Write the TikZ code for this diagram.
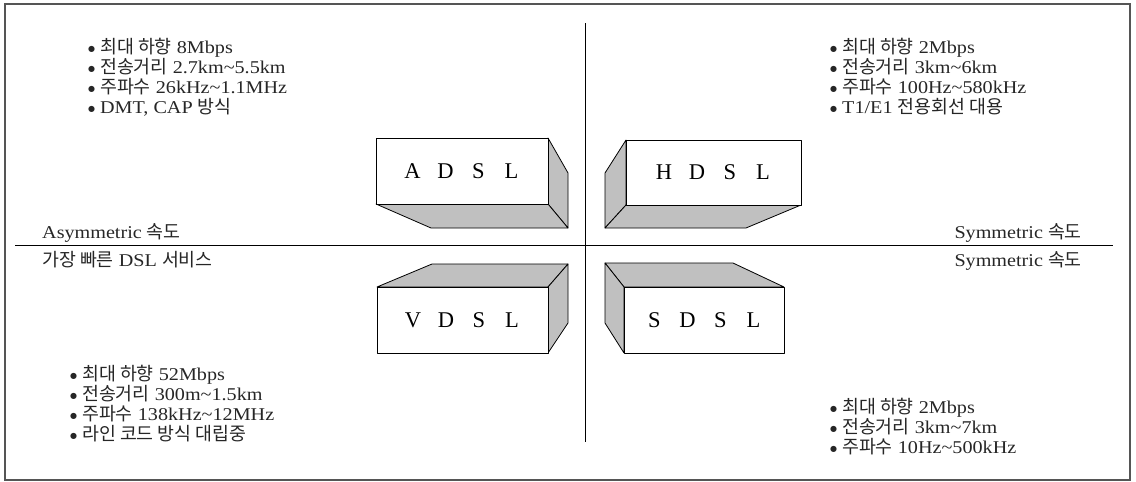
\documentclass[tikz,border=0pt]{standalone}
\usepackage{fontspec}
\setmainfont{Liberation Serif}[FakeStretch=1.12]
\newfontfamily\boxfont{Liberation Serif}
\newfontfamily\kr{Noto Sans CJK KR}[Scale=1.02]
\newfontfamily\symf{DejaVu Sans}
\definecolor{boxgray}{HTML}{C0C0C0}
\definecolor{framegray}{HTML}{555555}
\newcommand\spacedlbl[4]{\makebox[33pt]{#1}\makebox[33pt]{#2}\makebox[33pt]{#3}\makebox[33pt]{#4}}
\newcommand\bul{\raisebox{2pt}{\symf\fontsize{8}{8}\selectfont ●}\hspace{5pt}}
\begin{document}
\begin{tikzpicture}[x=1pt,y=-1pt,
  facestyle/.style={draw=black,line width=0.8pt,line join=round},
  shadeface/.style={facestyle,fill=boxgray},
  frontface/.style={facestyle,fill=white,inner sep=0pt,font=\boxfont\fontsize{22.5}{26}\selectfont},
  txt/.style={font=\fontsize{18}{20}\selectfont,inner sep=0pt,anchor=base west,text=black!85},
  txtr/.style={txt,anchor=base east},
  divider/.style={draw=black,line width=1pt}]
\useasboundingbox (0,0) rectangle (1136,482);
\draw[framegray,line width=1.5pt] (5,4) rectangle (1130,480);
% dividers
\coordinate (vtop) at (585,23);
\coordinate (vbot) at (585,442);
\coordinate (hl) at (15,245);
\coordinate (hr) at (1113,245);
\draw[divider] (vtop) -- (vbot);
\draw[divider] (hl) -- (hr);
% ADSL
\draw[shadeface] (548,138) -- (568,173) -- (568,228) -- (548,204) -- cycle;
\draw[shadeface] (376,204) -- (548,204) -- (568,228) -- (431,228) -- cycle;
\node[frontface,minimum width=172pt,minimum height=66pt] (adsl) at (462,171) {\spacedlbl ADSL};
% HDSL
\draw[shadeface] (605,173) -- (626,140) -- (626,205) -- (605,228) -- cycle;
\draw[shadeface] (605,228) -- (626,205) -- (801,205) -- (746,228) -- cycle;
\node[frontface,minimum width=175pt,minimum height=65pt] (hdsl) at (713.5,172.5) {\spacedlbl HDSL};
% VDSL
\draw[shadeface] (377,287) -- (432,264) -- (568,264) -- (548,287) -- cycle;
\draw[shadeface] (548,287) -- (568,264) -- (568,323) -- (548,353) -- cycle;
\node[frontface,minimum width=171pt,minimum height=66pt] (vdsl) at (462.5,320) {\spacedlbl VDSL};
% SDSL
\draw[shadeface] (624,287) -- (605,263) -- (733,263) -- (784,287) -- cycle;
\draw[shadeface] (605,263) -- (624,287) -- (624,353) -- (605,323) -- cycle;
\node[frontface,minimum width=160pt,minimum height=66pt] (sdsl) at (704,320) {\spacedlbl SDSL};
% top-left list
\node[txt] (a1) at (88,53) {\bul{\kr 최대 하향} 8Mbps};
\node[txt] (a2) at (88,73) {\bul{\kr 전송거리} 2.7km\textasciitilde5.5km};
\node[txt] (a3) at (88,93) {\bul{\kr 주파수} 26kHz\textasciitilde1.1MHz};
\node[txt] (a4) at (88,113) {\bul DMT, CAP {\kr 방식}};
% top-right list
\node[txt] (h1) at (830,53) {\bul{\kr 최대 하향} 2Mbps};
\node[txt] (h2) at (830,73) {\bul{\kr 전송거리} 3km\textasciitilde6km};
\node[txt] (h3) at (830,93) {\bul{\kr 주파수} 100Hz\textasciitilde580kHz};
\node[txt] (h4) at (830,113) {\bul T1/E1 {\kr 전용회선 대용}};
% middle labels
\node[txt] (asym) at (42,238) {Asymmetric {\kr 속도}};
\node[txt] (fast) at (42,266) {{\kr 가장 빠른} DSL {\kr 서비스}};
\node[txtr] (sym1) at (1082,238) {Symmetric {\kr 속도}};
\node[txtr] (sym2) at (1082,266) {Symmetric {\kr 속도}};
% bottom-left list
\node[txt] (v1) at (70,380) {\bul{\kr 최대 하향} 52Mbps};
\node[txt] (v2) at (70,400) {\bul{\kr 전송거리} 300m\textasciitilde1.5km};
\node[txt] (v3) at (70,420) {\bul{\kr 주파수} 138kHz\textasciitilde12MHz};
\node[txt] (v4) at (70,440) {\bul{\kr 라인 코드 방식 대립중}};
% bottom-right list
\node[txt] (s1) at (830,413) {\bul{\kr 최대 하향} 2Mbps};
\node[txt] (s2) at (830,433) {\bul{\kr 전송거리} 3km\textasciitilde7km};
\node[txt] (s3) at (830,453) {\bul{\kr 주파수} 10Hz\textasciitilde500kHz};
\end{tikzpicture}
\end{document}
